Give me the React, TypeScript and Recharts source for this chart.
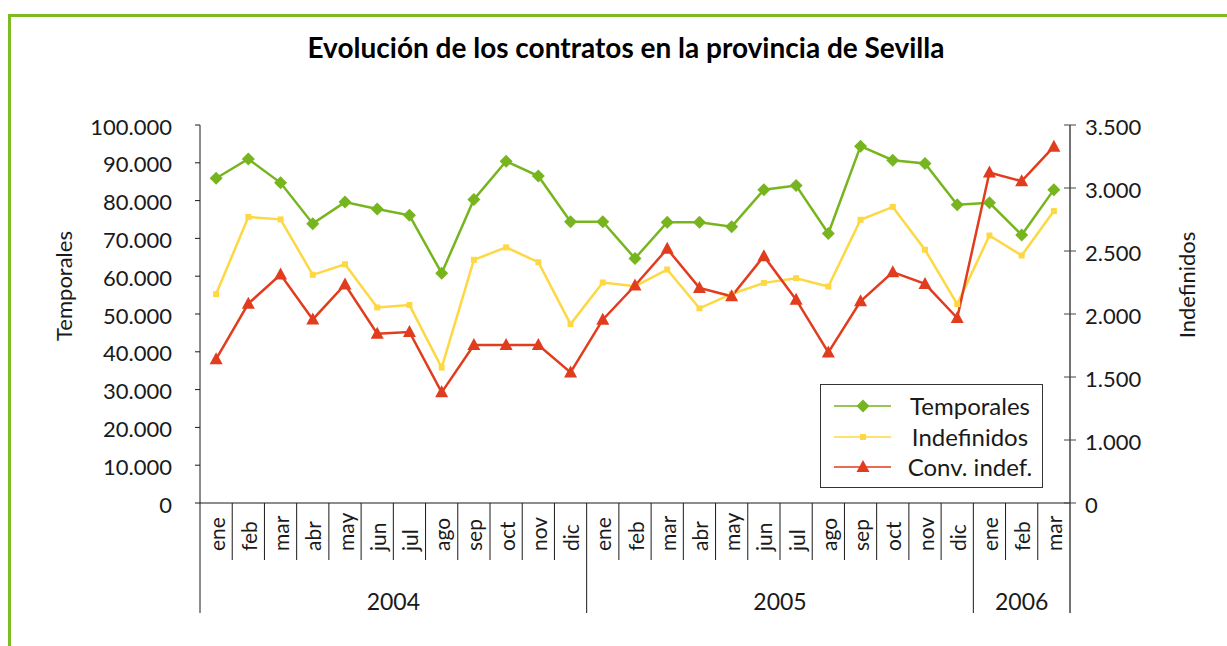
import { LineChart, Line, XAxis, YAxis, Legend } from "recharts";

const years = ["2004", "2005", "2006"];
const monthsPerYear = [12, 12, 3];
const monthNames = ["ene", "feb", "mar", "abr", "may", "jun", "jul", "ago", "sep", "oct", "nov", "dic"];

// left axis (Temporales)
const temporales = [
  85900, 91000, 84700, 73900, 79600, 77800, 76100, 60800, 80300, 90400, 86500, 74400,
  74400, 64700, 74300, 74300, 73100, 82900, 84000, 71300, 94400, 90700, 89800, 78900,
  79400, 70900, 82900,
];
// right axis
const indefinidos = [
  2158, 2770, 2751, 2311, 2395, 2052, 2071, 1575, 2430, 2529, 2411, 1920,
  2250, 2220, 2353, 2045, 2159, 2247, 2284, 2218, 2748, 2850, 2510, 2079,
  2623, 2464, 2817,
];
const convIndef = [
  1641, 2082, 2313, 1957, 2234, 1844, 1857, 1378, 1754, 1754, 1754, 1536,
  1955, 2226, 2517, 2207, 2141, 2459, 2114, 1695, 2101, 2332, 2239, 1968,
  3123, 3054, 3328,
];

const leftTicks = [0, 10000, 20000, 30000, 40000, 50000, 60000, 70000, 80000, 90000, 100000];
const rightTicks = [500, 1000, 1500, 2000, 2500, 3000, 3500];
const rightTickLabels = ["0", "1.000", "1.500", "2.000", "2.500", "3.000", "3.500"];

const W = 1227;
const H = 646;
const PLOT_LEFT = 200;
const PLOT_RIGHT = 1070;
const PLOT_TOP = 125;
const PLOT_BOTTOM = 503;
const FONT = "Lato, 'Open Sans', sans-serif";
const INK = "#1a1a1a";

const categories = years.flatMap((y, i) =>
  monthNames.slice(0, monthsPerYear[i]).map((m) => ({ month: m, year: y }))
);
const BW = (PLOT_RIGHT - PLOT_LEFT) / categories.length;

const yearStarts: Record<number, number> = {};
let acc = 0;
years.forEach((_, i) => {
  yearStarts[acc] = i;
  acc += monthsPerYear[i];
});

const data = categories.map((c, i) => ({
  month: c.month,
  temporales: temporales[i],
  indefinidos: indefinidos[i],
  convIndef: convIndef[i],
}));

const series = [
  { key: "temporales", name: "Temporales", color: "#77b51f", shape: "diamond", axis: "left" },
  { key: "indefinidos", name: "Indefinidos", color: "#fdd843", shape: "square", axis: "right" },
  { key: "convIndef", name: "Conv. indef.", color: "#e23c1e", shape: "triangle", axis: "right" },
];

const thousands = (v: number) => String(v).replace(/\B(?=(\d{3})+(?!\d))/g, ".");

function Marker({ shape, cx, cy, color }: { shape: string; cx: number; cy: number; color: string }) {
  if (shape === "diamond") {
    const r = 6.5;
    return <polygon points={`${cx},${cy - r} ${cx + r},${cy} ${cx},${cy + r} ${cx - r},${cy}`} fill={color} />;
  }
  if (shape === "square") {
    return <rect x={cx - 3} y={cy - 3} width={6} height={6} fill={color} />;
  }
  return <polygon points={`${cx},${cy - 7} ${cx + 6.5},${cy + 5} ${cx - 6.5},${cy + 5}`} fill={color} />;
}

function MonthTick(props: any) {
  const { x, payload, index } = props;
  const left = x - BW / 2;
  const yi = yearStarts[index];
  const isStart = yi !== undefined;
  const isLast = index === categories.length - 1;
  return (
    <g>
      <line x1={left} x2={left} y1={PLOT_BOTTOM} y2={isStart ? 613 : 560} stroke={INK} strokeWidth={1} />
      {isLast && <line x1={x + BW / 2} x2={x + BW / 2} y1={PLOT_BOTTOM} y2={613} stroke="#444" strokeWidth={1.5} />}
      <text
        x={x}
        y={551}
        transform={`rotate(-90 ${x} 551)`}
        textAnchor="start"
        dominantBaseline="central"
        fontFamily={FONT}
        fontSize={21}
        fill={INK}
      >
        {payload.value}
      </text>
      {isStart && (
        <text
          x={left + (monthsPerYear[yi] * BW) / 2}
          y={601}
          textAnchor="middle"
          dominantBaseline="central"
          fontFamily={FONT}
          fontSize={23}
          fill={INK}
        >
          {years[yi]}
        </text>
      )}
    </g>
  );
}

function LeftTick(props: any) {
  const { y, payload } = props;
  return (
    <g>
      <line x1={PLOT_LEFT - 5} x2={PLOT_LEFT} y1={y} y2={y} stroke={INK} />
      <text x={172} y={y + 1} textAnchor="end" dominantBaseline="central" fontFamily={FONT} fontSize={22} fill={INK}>
        {thousands(payload.value)}
      </text>
    </g>
  );
}

function RightTick(props: any) {
  const { y, payload } = props;
  const label = rightTickLabels[rightTicks.indexOf(payload.value)];
  return (
    <g>
      <line x1={PLOT_RIGHT - 6} x2={PLOT_RIGHT + 6} y1={y} y2={y} stroke="#444" />
      <text x={1085} y={y + 1} textAnchor="start" dominantBaseline="central" fontFamily={FONT} fontSize={22} fill={INK}>
        {label}
      </text>
    </g>
  );
}

function LegendBox() {
  return (
    <div style={{ position: "relative", width: "100%", height: "100%" }}>
      {series.map((s, i) => (
        <div key={s.key} style={{ position: "absolute", left: 0, top: 6 + i * 30.5, height: 30, width: "100%" }}>
          <svg width={80} height={30} style={{ position: "absolute", left: 0, top: 0 }}>
            <line x1={13} x2={70} y1={15} y2={15} stroke={s.color} strokeWidth={1.5} />
            <Marker shape={s.shape} cx={42} cy={15} color={s.color} />
          </svg>
          <div
            style={{
              position: "absolute",
              left: 80,
              width: 138,
              top: 0,
              lineHeight: "30px",
              textAlign: "center",
              fontFamily: FONT,
              fontSize: 24,
              color: INK,
            }}
          >
            {s.name}
          </div>
        </div>
      ))}
    </div>
  );
}

export default function App() {
  return (
    <div style={{ position: "absolute", left: 0, top: 0, width: W, height: H, background: "#fff", overflow: "hidden" }}>
      <div
        style={{
          position: "absolute",
          left: 8,
          top: 14,
          width: W,
          height: H,
          borderTop: "3px solid #7cbb21",
          borderLeft: "3px solid #7cbb21",
        }}
      />
      <div
        style={{
          position: "absolute",
          left: 0,
          top: 30,
          width: 1252,
          textAlign: "center",
          fontFamily: FONT,
          fontWeight: 700,
          fontSize: 28,
          color: "#000",
        }}
      >
        Evolución de los contratos en la provincia de Sevilla
      </div>
      <div style={{ position: "absolute", left: 0, top: 0 }}>
        <LineChart width={W} height={H} data={data} margin={{ top: PLOT_TOP, right: 57, bottom: 0, left: 100 }}>
          <XAxis
            dataKey="month"
            interval={0}
            padding={{ left: BW / 2, right: BW / 2 }}
            tickLine={false}
            axisLine={{ stroke: INK }}
            height={H - PLOT_BOTTOM}
            tick={(p: any) => <MonthTick {...p} />}
          />
          <YAxis
            yAxisId="left"
            domain={[0, 100000]}
            ticks={leftTicks}
            width={100}
            tickLine={false}
            axisLine={{ stroke: INK }}
            tick={(p: any) => <LeftTick {...p} />}
            label={{
              content: () => (
                <text x={63} y={286} transform="rotate(-90 63 286)" textAnchor="middle" dominantBaseline="central" fontFamily={FONT} fontSize={22} fill={INK}>
                  Temporales
                </text>
              ),
            }}
          />
          <YAxis
            yAxisId="right"
            orientation="right"
            domain={[500, 3500]}
            ticks={rightTicks}
            width={100}
            tickLine={false}
            axisLine={{ stroke: "#444", strokeWidth: 1.5 }}
            tick={(p: any) => <RightTick {...p} />}
            label={{
              content: () => (
                <text x={1186} y={285} transform="rotate(-90 1186 285)" textAnchor="middle" dominantBaseline="central" fontFamily={FONT} fontSize={22} fill={INK}>
                  Indefinidos
                </text>
              ),
            }}
          />
          {series.map((s) => (
            <Line
              key={s.key}
              yAxisId={s.axis}
              dataKey={s.key}
              name={s.name}
              type="linear"
              stroke={s.color}
              strokeWidth={2.5}
              isAnimationActive={false}
              activeDot={false}
              dot={(p: any) => <Marker key={`${s.key}-${p.index}`} shape={s.shape} cx={p.cx} cy={p.cy} color={s.color} />}
            />
          ))}
          <Legend
            layout="horizontal"
            verticalAlign="middle"
            align="center"
            content={() => <LegendBox />}
            wrapperStyle={{
              left: 820,
              top: 384,
              width: 223,
              height: 104,
              border: "1px solid #333",
              background: "#fff",
              boxSizing: "border-box",
            }}
          />
        </LineChart>
      </div>
    </div>
  );
}
